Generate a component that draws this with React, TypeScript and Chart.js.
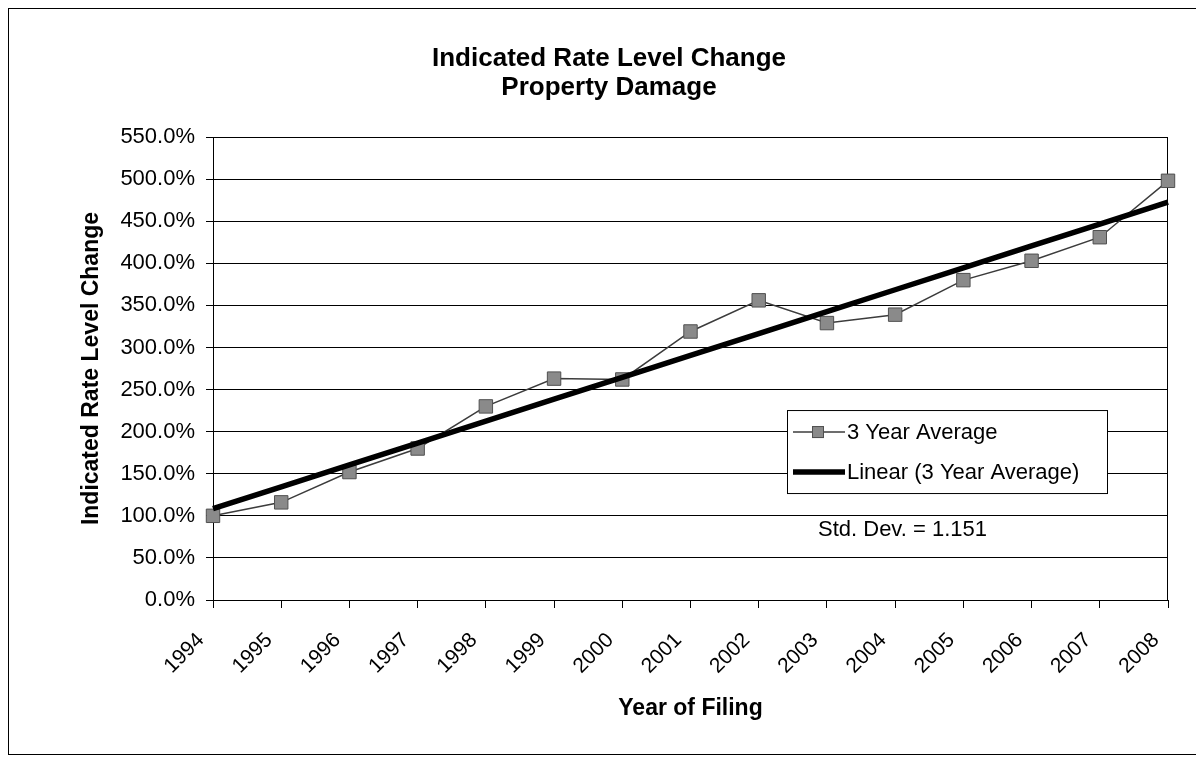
import React, { useEffect, useRef } from 'react';
import { Chart, registerables } from 'chart.js';

Chart.register(...registerables);

// ---------- data ----------
const years = ['1994', '1995', '1996', '1997', '1998', '1999', '2000', '2001', '2002', '2003', '2004', '2005', '2006', '2007', '2008'];
const threeYearAverage = [100, 116, 152, 180, 230, 263, 262, 319, 356, 329, 339, 380, 403, 431, 498];
const yMin = 0;
const yMax = 550;
const yStep = 50;
const titleLines = ['Indicated Rate Level Change', 'Property Damage'];
const xAxisTitle = 'Year of Filing';
const yAxisTitle = 'Indicated Rate Level Change';
const seriesLabel = '3 Year Average';
const trendLabel = 'Linear (3 Year Average)';
const stdDevText = 'Std. Dev. = 1.151';

// least-squares linear trendline of the series (as the spreadsheet's "Linear" trendline)
function linearTrend(values: number[]): number[] {
  const n = values.length;
  const xm = (n - 1) / 2;
  const ym = values.reduce((s, v) => s + v, 0) / n;
  let sxy = 0;
  let sxx = 0;
  values.forEach((v, i) => {
    sxy += (i - xm) * (v - ym);
    sxx += (i - xm) * (i - xm);
  });
  const slope = sxy / sxx;
  return values.map((_, i) => ym + slope * (i - xm));
}

const FONT = "'Liberation Sans', Arial, Helvetica, sans-serif";

const overlayPlugin = {
  id: 'overlay',
  beforeDatasetsDraw(chart: any) {
    const { ctx, chartArea: a } = chart;
    ctx.save();
    ctx.strokeStyle = '#000';
    ctx.lineWidth = 1;
    ctx.beginPath();
    ctx.moveTo(a.right - 0.5, a.top);
    ctx.lineTo(a.right - 0.5, a.bottom);
    ctx.stroke();
    ctx.restore();
  },
  afterDatasetsDraw(chart: any) {
    const { ctx, chartArea: a } = chart;
    const ds0 = chart.data.datasets[0];
    const ds1 = chart.data.datasets[1];
    ctx.save();
    // legend box
    const bx = a.left + 574;
    const by = a.top + 273;
    const bw = 320;
    const bh = 83;
    ctx.fillStyle = '#fff';
    ctx.fillRect(bx, by, bw, bh);
    ctx.strokeStyle = '#000';
    ctx.lineWidth = 1;
    ctx.strokeRect(bx + 0.5, by + 0.5, bw, bh);

    ctx.font = `22px ${FONT}`;
    ctx.textBaseline = 'middle';
    ctx.textAlign = 'left';
    ctx.fillStyle = '#000';

    // entry 1
    const y1 = by + 22;
    ctx.strokeStyle = ds0.borderColor;
    ctx.lineWidth = ds0.borderWidth;
    ctx.beginPath();
    ctx.moveTo(bx + 6, y1);
    ctx.lineTo(bx + 58, y1);
    ctx.stroke();
    ctx.fillStyle = ds0.pointBackgroundColor;
    ctx.strokeStyle = ds0.pointBorderColor;
    ctx.lineWidth = 1;
    ctx.fillRect(bx + 25, y1 - 6, 12, 12);
    ctx.strokeRect(bx + 25.5, y1 - 5.5, 11, 11);
    ctx.fillStyle = '#000';
    ctx.fillText(String(ds0.label), bx + 60, y1 + 1);

    // entry 2
    const y2 = by + 62;
    ctx.strokeStyle = ds1.borderColor;
    ctx.lineWidth = ds1.borderWidth;
    ctx.beginPath();
    ctx.moveTo(bx + 6, y2);
    ctx.lineTo(bx + 58, y2);
    ctx.stroke();
    ctx.fillText(String(ds1.label), bx + 60, y2 + 1);

    // std dev note
    ctx.fillText(stdDevText, a.left + 605, a.top + 393);
    ctx.restore();
  },
};

export default function App() {
  const canvasRef = useRef<HTMLCanvasElement | null>(null);

  useEffect(() => {
    const canvas = canvasRef.current;
    if (!canvas) return;
    const trend = linearTrend(threeYearAverage);
    const chart = new Chart(canvas, {
      type: 'line',
      data: {
        labels: years,
        datasets: [
          {
            label: seriesLabel,
            data: threeYearAverage,
            borderColor: '#3c3c3c',
            borderWidth: 1.5,
            pointStyle: 'rect',
            pointRadius: 9.5,
            pointHoverRadius: 9.5,
            pointBackgroundColor: '#8a8a8a',
            pointBorderColor: '#505050',
            pointBorderWidth: 1,
            tension: 0,
            fill: false,
            order: 2,
          },
          {
            label: trendLabel,
            data: trend,
            borderColor: '#000000',
            borderWidth: 5.5,
            pointRadius: 0,
            pointHoverRadius: 0,
            tension: 0,
            fill: false,
            order: 1,
          },
        ],
      },
      options: {
        responsive: false,
        animation: false,
        devicePixelRatio: 1,
        layout: { padding: { left: 50, right: 28, top: 0, bottom: 0 } },
        plugins: {
          legend: { display: false },
          tooltip: { enabled: false },
          title: {
            display: true,
            text: titleLines,
            color: '#000',
            font: { family: FONT, size: 26, weight: 'bold', lineHeight: 1.12 },
            padding: { top: 44, bottom: 34.8 },
          },
        },
        scales: {
          x: {
            type: 'category',
            offset: false,
            grid: { display: true, drawOnChartArea: false, drawTicks: true, tickLength: 8, color: '#000', lineWidth: 1 },
            border: { display: true, color: '#000', width: 1 },
            ticks: {
              autoSkip: false,
              minRotation: 45,
              maxRotation: 45,
              color: '#000',
              padding: 20,
              labelOffset: -12,
              font: { family: FONT, size: 21 },
            },
            title: {
              display: true,
              text: xAxisTitle,
              color: '#000',
              font: { family: FONT, size: 23, weight: 'bold', lineHeight: 1.2 },
              padding: { top: 0, bottom: 37 },
            },
            afterFit: (s: any) => {
              s.height = 159;
              s.paddingLeft = 0;
              s.paddingRight = 0;
            },
          },
          y: {
            min: yMin,
            max: yMax,
            grid: { color: '#000', lineWidth: 1, tickLength: 7, drawTicks: true },
            border: { display: true, color: '#000', width: 1 },
            ticks: {
              stepSize: yStep,
              color: '#000',
              padding: 11,
              font: { family: FONT, size: 22 },
              callback: (v: any) => Number(v).toFixed(1) + '%',
            },
            title: {
              display: true,
              text: yAxisTitle,
              color: '#000',
              font: { family: FONT, size: 23, weight: 'bold', lineHeight: 1.2 },
              padding: { top: 28, bottom: 0 },
            },
            afterFit: (s: any) => {
              s.width = 163;
            },
          },
        },
      },
      plugins: [overlayPlugin],
    });
    return () => chart.destroy();
  }, []);

  return (
    <>
      <div
        style={{
          position: 'fixed',
          left: 8,
          top: 8,
          width: 1188,
          height: 747,
          borderLeft: '1px solid #000',
          borderTop: '1px solid #000',
          borderBottom: '1px solid #000',
          boxSizing: 'border-box',
          background: '#fff',
        }}
      />
      <canvas
        ref={canvasRef}
        width={1196}
        height={759}
        style={{ position: 'fixed', left: 0, top: 0, width: 1196, height: 759 }}
      />
    </>
  );
}
